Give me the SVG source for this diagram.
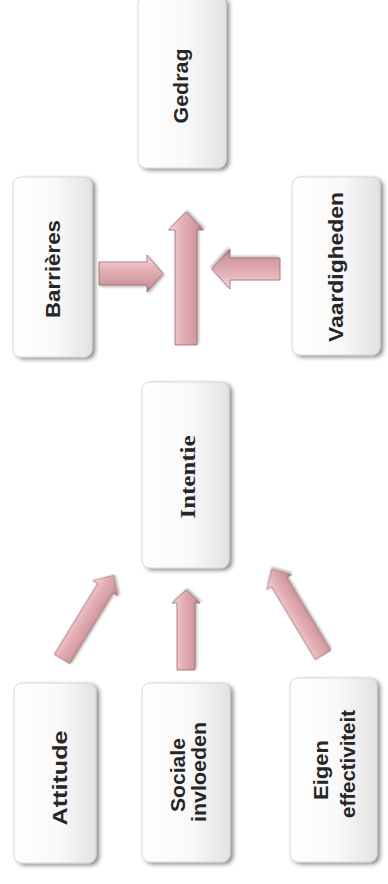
<svg xmlns="http://www.w3.org/2000/svg" width="388" height="884" viewBox="0 0 388 884">
  <defs>
    <linearGradient id="boxg" x1="0" y1="0" x2="1" y2="0">
      <stop offset="0" stop-color="#ffffff"/>
      <stop offset="0.55" stop-color="#f9f9f9"/>
      <stop offset="1" stop-color="#e2e2e2"/>
    </linearGradient>
    <linearGradient id="arrg" x1="0" y1="0" x2="0" y2="1">
      <stop offset="0" stop-color="#f6dde0"/>
      <stop offset="0.35" stop-color="#e6b3b8"/>
      <stop offset="0.8" stop-color="#cf979d"/>
      <stop offset="1" stop-color="#a87278"/>
    </linearGradient>
    <filter id="sh" x="-20%" y="-20%" width="140%" height="140%">
      <feDropShadow dx="3" dy="2" stdDeviation="2" flood-color="#000" flood-opacity="0.45"/>
    </filter>
    <filter id="ash" x="-30%" y="-30%" width="160%" height="160%">
      <feDropShadow dx="1.5" dy="1.5" stdDeviation="1.2" flood-color="#000" flood-opacity="0.3"/>
    </filter>
    <polygon id="arr" points="0,-1 1,-1 1,-1 1,0 1,1 1,1 0,1"/>
  </defs>
  <style>
    .box { fill: url(#boxg); stroke: #cfcfcf; stroke-width: 0.8; filter: url(#sh); }
    .lbl { font-family: "Liberation Sans", Arial, sans-serif; font-size: 20px; font-weight: bold; fill: #262626; text-anchor: middle; }
    .ser { font-family: "Liberation Serif", "Times New Roman", serif; font-size: 21px; font-weight: bold; fill: #262626; text-anchor: middle; }
    .ar { fill: url(#arrg); stroke: #9a6a70; stroke-width: 0.8; filter: url(#ash); }
  </style>

  <g id="connectors">
    <!-- central vertical arrow (up) -->
    <polygon class="ar" transform="translate(186,345) rotate(-90)" points="0,-11 115,-11 115,-17.5 133,0 115,17.5 115,11 0,11"/>
    <!-- Barrieres -> -->
    <polygon class="ar" transform="translate(99,273.5)" points="0,-11.5 48,-11.5 48,-18.5 64,0 48,18.5 48,11.5 0,11.5"/>
    <!-- <- Vaardigheden -->
    <polygon class="ar" transform="translate(280,269) rotate(180)" points="0,-11 50,-11 50,-20 68,0 50,20 50,11 0,11"/>
    <!-- Attitude -> Intentie -->
    <polygon class="ar" transform="translate(62,659) rotate(-58.5)" points="0,-9 83,-9 83,-14.5 98,0 83,14.5 83,9 0,9"/>
    <!-- Sociale -> Intentie -->
    <polygon class="ar" transform="translate(186,670) rotate(-90)" points="0,-9 67,-9 67,-14 80,0 67,14 67,9 0,9"/>
    <!-- Eigen -> Intentie -->
    <polygon class="ar" transform="translate(323,655) rotate(-121)" points="0,-9 85,-9 85,-14.5 100,0 85,14.5 85,9 0,9"/>
  </g>

  <g id="gedrag">
    <rect class="box" x="138" y="-4" width="88" height="172" rx="8"/>
    <text class="lbl" transform="translate(188,86) rotate(-90)" textLength="75" lengthAdjust="spacingAndGlyphs">Gedrag</text>
  </g>
  <g id="barrieres">
    <rect class="box" x="13" y="177" width="79" height="180" rx="8"/>
    <text class="lbl" transform="translate(60,269) rotate(-90)" textLength="98" lengthAdjust="spacingAndGlyphs">Barrières</text>
  </g>
  <g id="vaardigheden">
    <rect class="box" x="292" y="177" width="88" height="178" rx="8"/>
    <text class="lbl" transform="translate(343,267) rotate(-90)" textLength="150" lengthAdjust="spacingAndGlyphs">Vaardigheden</text>
  </g>
  <g id="intentie">
    <rect class="box" x="142" y="382" width="87" height="186" rx="8"/>
    <text class="ser" transform="translate(195,477) rotate(-90)" textLength="83" lengthAdjust="spacingAndGlyphs">Intentie</text>
  </g>
  <g id="attitude">
    <rect class="box" x="14" y="683" width="82" height="180" rx="8"/>
    <text class="lbl" transform="translate(67,778) rotate(-90)" textLength="95" lengthAdjust="spacingAndGlyphs">Attitude</text>
  </g>
  <g id="sociale-invloeden">
    <rect class="box" x="142" y="683" width="88" height="179" rx="8"/>
    <text class="lbl" transform="translate(185,775) rotate(-90)" textLength="74" lengthAdjust="spacingAndGlyphs">Sociale</text>
    <text class="lbl" transform="translate(206,772) rotate(-90)" textLength="100" lengthAdjust="spacingAndGlyphs">invloeden</text>
  </g>
  <g id="eigen-effectiviteit">
    <rect class="box" x="290" y="678" width="87" height="184" rx="8"/>
    <text class="lbl" transform="translate(328,770) rotate(-90)" textLength="60" lengthAdjust="spacingAndGlyphs">Eigen</text>
    <text class="lbl" transform="translate(355,764) rotate(-90)" textLength="108" lengthAdjust="spacingAndGlyphs">effectiviteit</text>
  </g>
</svg>
